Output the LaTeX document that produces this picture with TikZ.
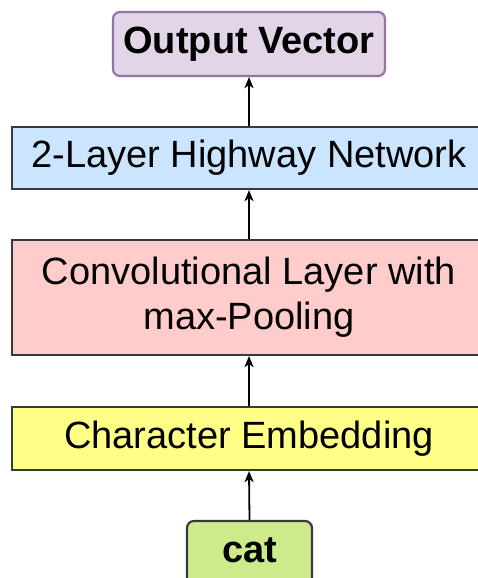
\documentclass[tikz,border=0pt]{standalone}
\usepackage{fontspec}
\setmainfont{Liberation Sans}
\usetikzlibrary{arrows.meta}
\definecolor{outfill}{HTML}{E1D5E7}
\definecolor{outline}{HTML}{9673A6}
\definecolor{hwfill}{HTML}{CCE5FF}
\definecolor{convfill}{HTML}{FFCCCC}
\definecolor{embfill}{HTML}{FFFF88}
\definecolor{catfill}{HTML}{CDEB8B}
\definecolor{edge}{HTML}{36393D}
\begin{document}
\begin{tikzpicture}[x=1pt,y=-1pt,
  layer/.style={draw=edge, line width=2.2pt, minimum width=474pt, inner sep=0pt,
    font=\fontsize{38}{45}\selectfont, align=center},
  term/.style={draw=edge, line width=2.2pt, rounded corners=7pt, inner sep=0pt,
    font=\fontsize{38}{45}\selectfont\bfseries},
  flow/.style={-{Stealth[length=11pt,width=9pt,inset=3pt]}, line width=1.8pt, black}]
\useasboundingbox (0,0) rectangle (478,578);
\node[term, draw=outline, fill=outfill, minimum width=272pt, minimum height=64pt] (out) at (249,44) {Output Vector};
\node[layer, fill=hwfill, minimum height=62pt] (hw) at (249,158) {2-Layer Highway Network};
\node[layer, fill=convfill, minimum height=115pt] (conv) at (249,297.5) {Convolutional Layer with\\max-Pooling};
\node[layer, fill=embfill, minimum height=63pt] (emb) at (249,438.5) {Character Embedding};
\node[term, fill=catfill, minimum width=125pt, minimum height=70pt, text depth=12pt] (cat) at (249.5,556) {cat};
\draw[flow] (hw.north) -- (out.south);
\draw[flow] (conv.north) -- (hw.south);
\draw[flow] (emb.north) -- (conv.south);
\draw[flow] (cat.north) -- (emb.south);
\end{tikzpicture}
\end{document}
